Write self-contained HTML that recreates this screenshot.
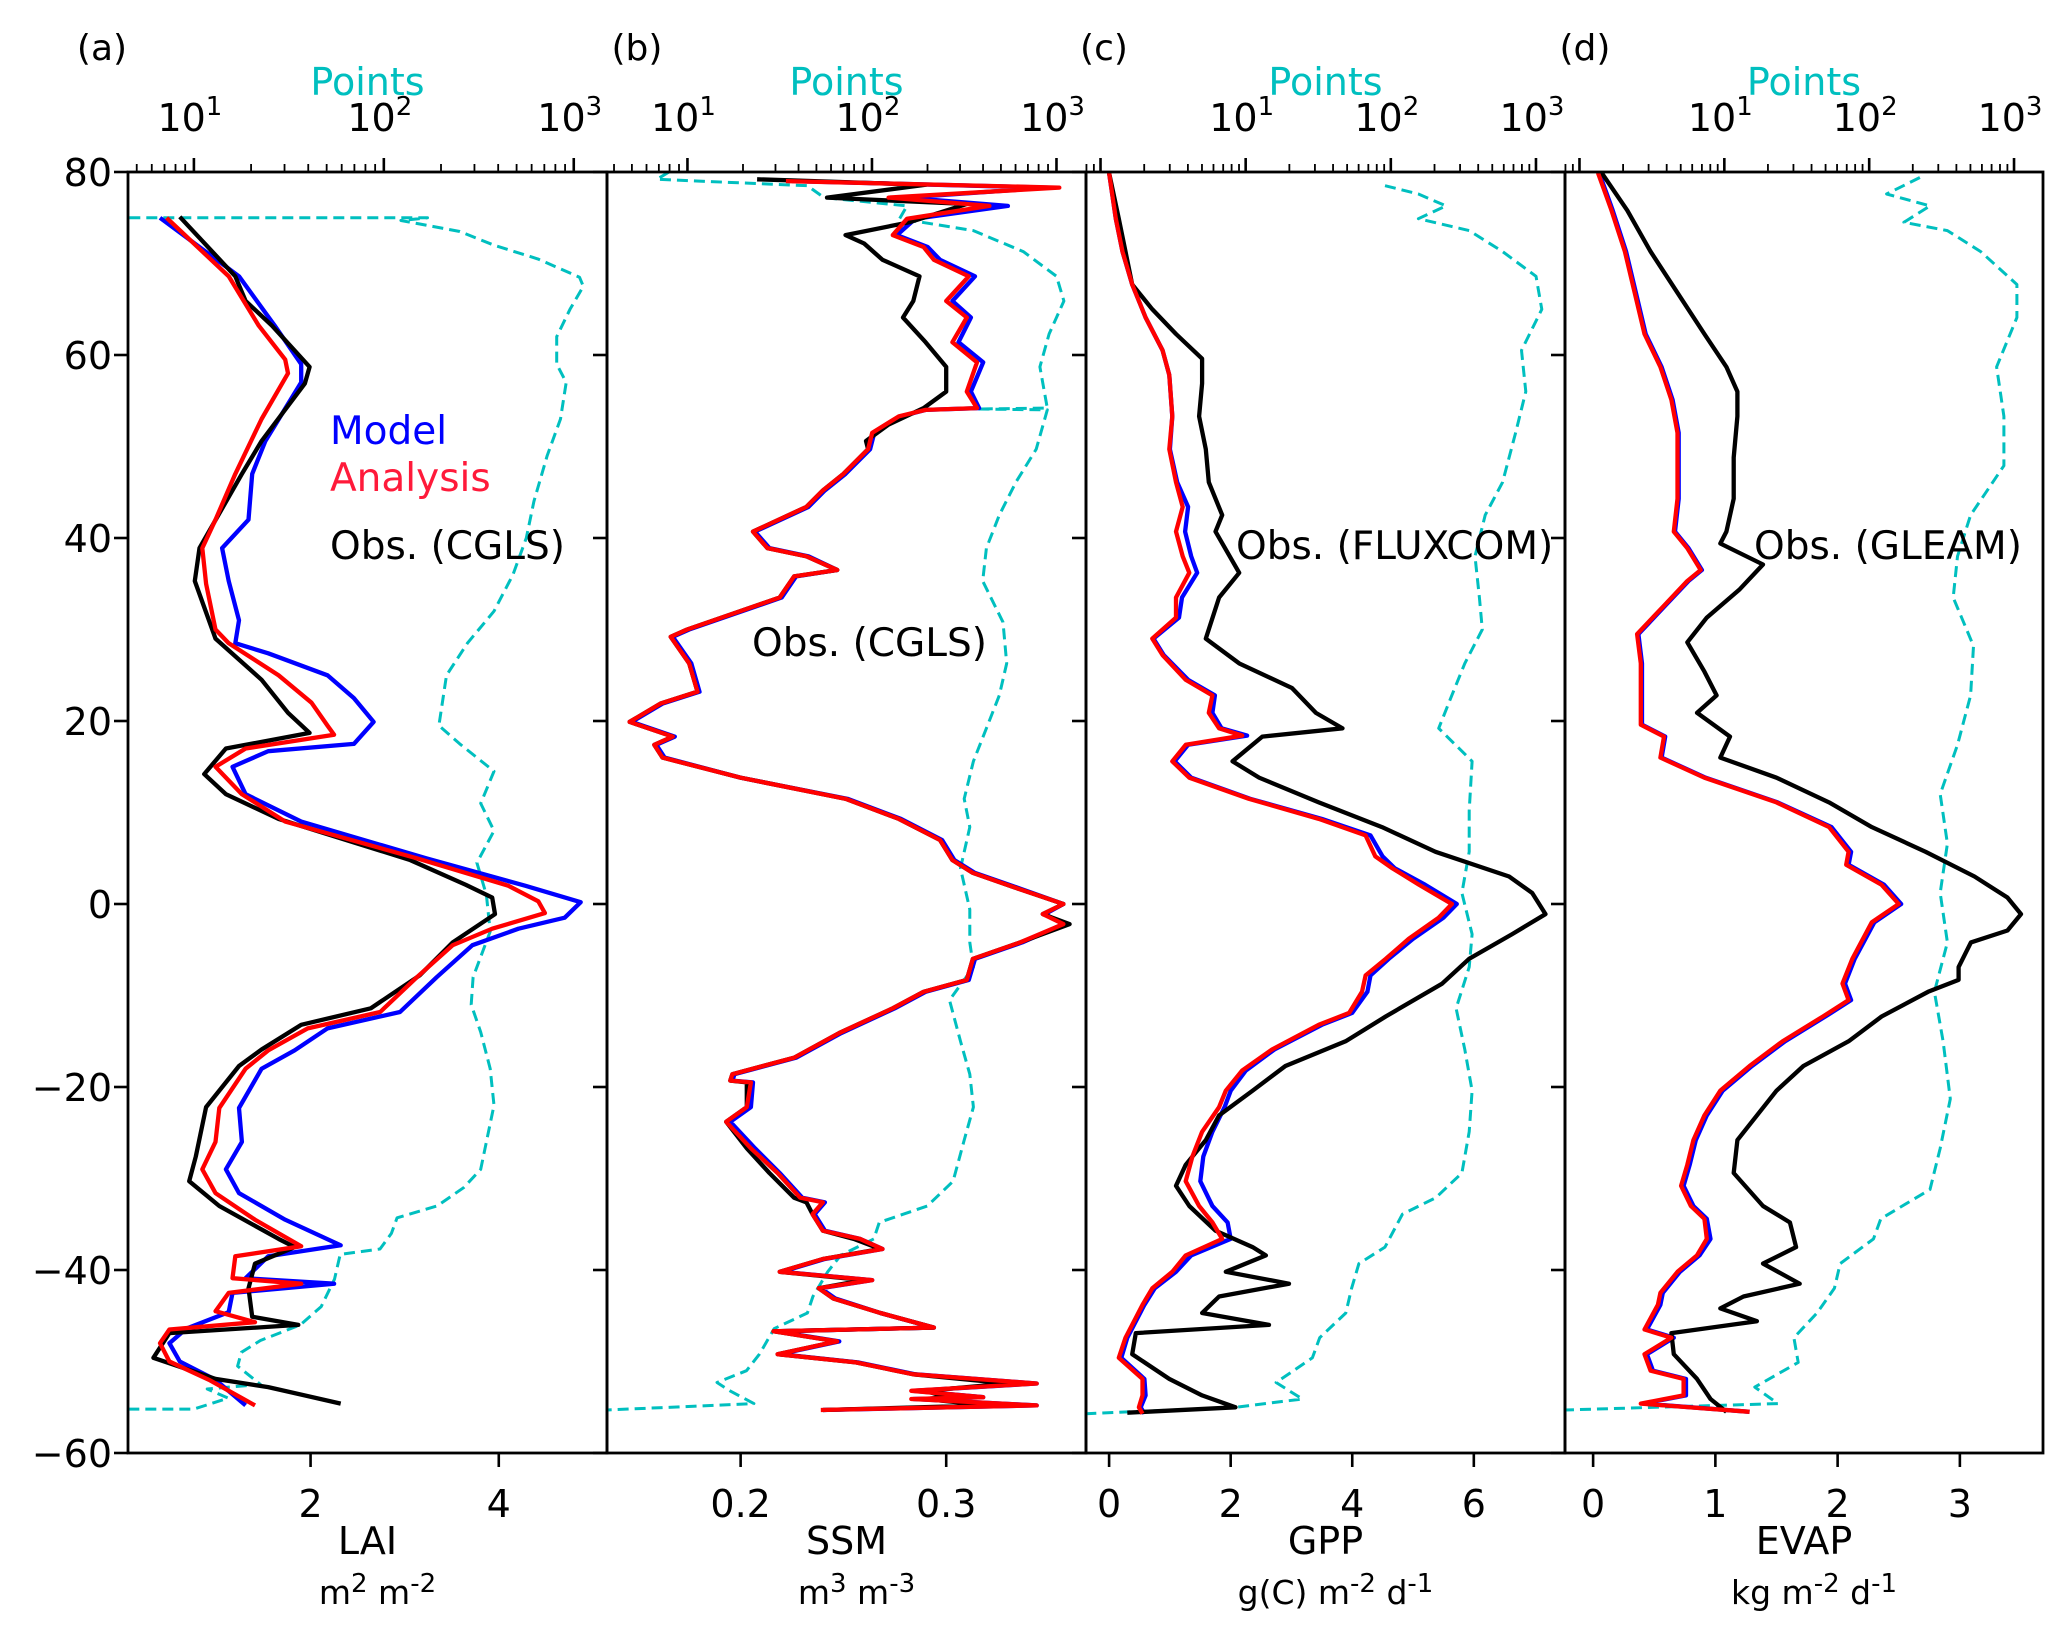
<!DOCTYPE html>
<html><head><meta charset="utf-8"><style>
html,body{margin:0;padding:0;background:#fff}
svg{display:block}
text{font-family:"DejaVu Sans","Liberation Sans",sans-serif}
</style></head><body>
<svg id="fig" width="2067" height="1627" viewBox="0 0 2067 1627" xmlns="http://www.w3.org/2000/svg">
<rect width="2067" height="1627" fill="#fff"/>
</svg>
<script>
// ---------- DATA ----------
// Panel (a) LAI
const aModLat=[75,68.6,63.2,59,57,50.6,47,42,38.9,35.3,31,28.5,27.4,25,22.5,19.9,17.5,16.7,15,12,9,5,2,0.2,-1.5,-2.7,-4.5,-8,-11.8,-13.6,-16,-18,-22.3,-26,-29,-31.6,-34.5,-37.3,-38.5,-40.9,-41.5,-42.5,-44.6,-46.4,-48,-50,-52,-54.8];
const aModVal=[0.4,1.24,1.62,1.9,1.9,1.52,1.38,1.34,1.06,1.13,1.24,1.2,1.55,2.18,2.46,2.67,2.46,1.55,1.17,1.31,1.9,3.23,4.28,4.87,4.7,4.21,3.72,3.34,2.95,2.18,1.83,1.48,1.24,1.27,1.1,1.24,1.73,2.32,1.55,1.31,2.25,1.17,1.13,0.68,0.5,0.61,0.99,1.31];
const aAnaLat=[75,68.6,63.2,59.5,58,53,47,42,38.9,35,30,28.5,25,22,19.5,18.5,17,15,12,9,5,2,0.3,-1,-2.7,-4.5,-8,-11.8,-13.6,-16,-18,-22.3,-26,-29,-31.6,-34.5,-37.4,-38.5,-40.9,-41.5,-42.5,-44.5,-45.7,-46.5,-48,-50,-52,-54.8];
const aAnaVal=[0.47,1.13,1.45,1.73,1.76,1.48,1.2,0.99,0.85,0.89,0.99,1.13,1.66,2.01,2.18,2.25,1.31,0.99,1.27,1.73,3.13,4.1,4.42,4.49,3.93,3.51,3.13,2.74,1.97,1.55,1.31,1.03,0.99,0.85,0.99,1.41,1.9,1.2,1.17,1.9,1.13,0.99,1.41,0.5,0.4,0.5,0.92,1.41];
const aObsLat=[75.1,68.6,65.9,63.2,58.7,56.9,50.6,47,38.9,35.3,29,24.5,20.9,18.7,17,14.2,12,9.3,4.8,2.1,0.7,-1.1,-4.2,-7.8,-11.4,-13.2,-15.9,-17.7,-22.2,-27.6,-30.3,-33,-36.6,-37.5,-39.3,-42,-45.1,-46,-46.9,-49.6,-51.9,-52.8,-54.6];
const aObsVal=[0.61,1.2,1.31,1.59,1.99,1.94,1.48,1.27,0.82,0.77,0.99,1.48,1.76,1.99,1.1,0.87,1.1,1.66,3.06,3.65,3.93,3.96,3.51,3.16,2.64,1.9,1.48,1.24,0.89,0.78,0.71,1.03,1.66,1.83,1.41,1.34,1.38,1.87,0.5,0.33,0.99,1.55,2.32];
const aPtsLat=[75,75,74.7,73.5,72,70.5,68.5,67.5,65,62,59,57,53,49,44,40,36,32,28.5,25,19.5,17.5,14.5,11,8,4.5,1,-3,-8,-11,-14,-18,-22,-26,-29,-31,-33,-34.3,-36,-37.7,-38.3,-41,-44,-46,-47.7,-49,-50.5,-52.5,-53,-54,-55.2,-55.2];
const aPtsLog=[0.66,2.23,2.09,2.4,2.58,2.81,3.03,3.05,2.98,2.91,2.91,2.96,2.93,2.86,2.79,2.75,2.68,2.58,2.44,2.33,2.29,2.4,2.58,2.51,2.58,2.49,2.54,2.56,2.47,2.46,2.51,2.56,2.58,2.54,2.51,2.42,2.28,2.07,2.04,1.98,1.77,1.74,1.67,1.56,1.35,1.25,1.23,1.35,1.07,1.18,1.0,0.66];

// Panel (b) SSM
const bLat=[79,78.3,77.2,76.3,74.9,73.1,71.8,70.4,68.6,65.9,64.1,61.4,59.2,56,54.2,54,53.3,51.5,49.7,47,45.2,43.4,40.7,38.9,38,36.5,35.8,33.5,30,29.2,26.3,23.2,21.9,19.9,18.3,17.4,16,13.8,11.5,9.3,7,4.8,3.4,1.6,0,-1.1,-2.2,-4.2,-6,-8.3,-9.6,-11.4,-14.1,-16.8,-18.6,-19.3,-19.5,-22.2,-23.8,-26.7,-29.4,-32.1,-32.6,-33.9,-35.7,-36.6,-37.7,-38.8,-40.2,-41.1,-42,-43.1,-44.7,-46.3,-46.7,-47.8,-49.2,-50.1,-51.4,-52.4,-53.2,-53.9,-54.1,-54.8,-55.3];
const bAnaVal=[0.222,0.355,0.272,0.321,0.281,0.274,0.289,0.294,0.311,0.3,0.31,0.303,0.315,0.31,0.315,0.29,0.277,0.264,0.262,0.25,0.24,0.232,0.206,0.213,0.232,0.247,0.226,0.219,0.174,0.166,0.175,0.179,0.161,0.146,0.167,0.158,0.162,0.2,0.251,0.277,0.297,0.303,0.313,0.336,0.357,0.347,0.357,0.336,0.313,0.31,0.289,0.274,0.248,0.226,0.196,0.195,0.205,0.203,0.193,0.205,0.218,0.229,0.24,0.235,0.24,0.258,0.269,0.24,0.219,0.264,0.238,0.245,0.268,0.294,0.216,0.247,0.218,0.256,0.284,0.344,0.283,0.318,0.283,0.344,0.239];
const bModVal=[0.225,0.35,0.28,0.33,0.285,0.276,0.291,0.297,0.314,0.303,0.312,0.306,0.318,0.312,0.316,0.29,0.278,0.265,0.263,0.251,0.241,0.233,0.207,0.214,0.233,0.247,0.227,0.22,0.175,0.167,0.176,0.18,0.162,0.147,0.168,0.159,0.163,0.2,0.252,0.278,0.298,0.304,0.314,0.337,0.357,0.348,0.357,0.337,0.314,0.311,0.29,0.275,0.249,0.227,0.197,0.196,0.206,0.205,0.195,0.207,0.219,0.23,0.241,0.236,0.241,0.258,0.269,0.241,0.22,0.264,0.239,0.246,0.268,0.294,0.217,0.248,0.219,0.257,0.285,0.344,0.284,0.318,0.284,0.344,0.24];
const bObsLat=[79.2,78.6,77.2,76.5,74.5,73.1,72.2,70.4,68.6,65.9,64.1,61.4,58.7,56,54.2,52.4,50.6,49.7,47,45.2,43.4,40.7,38.9,38,36.5,35.8,33.5,30,29.2,26.3,23.2,21.9,19.9,18.3,17.4,16,13.8,11.5,9.3,7,4.8,3.4,1.6,0,-1.1,-2.2,-4.2,-6,-8.3,-9.6,-11.4,-14.1,-16.8,-18.6,-19.3,-19.5,-22.2,-23.8,-26.7,-29.4,-32.1,-32.6,-33.9,-35.7,-36.6,-37.7,-38.8,-40.2,-41.1,-42,-43.1,-44.7,-46.3,-46.7,-47.8,-49.2,-50.1,-51.4,-52.4,-53.2,-53.9,-54.1,-54.8,-55.3];
const bObsVal=[0.208,0.29,0.242,0.31,0.282,0.251,0.26,0.269,0.287,0.284,0.279,0.29,0.3,0.3,0.289,0.272,0.261,0.262,0.25,0.24,0.232,0.206,0.213,0.232,0.247,0.226,0.219,0.174,0.166,0.175,0.179,0.161,0.146,0.167,0.158,0.162,0.2,0.251,0.277,0.297,0.303,0.313,0.336,0.357,0.347,0.36,0.336,0.313,0.31,0.289,0.274,0.248,0.226,0.196,0.195,0.203,0.203,0.193,0.203,0.214,0.226,0.232,0.235,0.24,0.255,0.268,0.24,0.219,0.26,0.238,0.245,0.268,0.294,0.216,0.247,0.218,0.256,0.284,0.33,0.29,0.3,0.29,0.32,0.24];
const bPtsLat=[80,79.2,78.5,77.2,76.3,74.9,73.6,71.3,68.6,65.9,62.3,58.7,54.2,54.1,54.0,49.7,46.1,42.5,38.9,35.3,30.8,26.3,22.8,19.2,15.6,11.5,8.4,3.9,-0.6,-4.2,-6.9,-10.5,-15,-18.6,-22.2,-25.8,-30.3,-33,-34.8,-36.6,-38.4,-40.2,-42.9,-44.7,-46.4,-49.2,-51,-52.3,-53.2,-54.6,-55.3];
const bPtsLog=[0.9,0.835,1.65,1.74,2.19,2.15,2.55,2.82,3.0,3.04,2.96,2.91,2.95,2.57,2.95,2.89,2.78,2.69,2.62,2.6,2.71,2.73,2.69,2.62,2.55,2.5,2.53,2.48,2.53,2.53,2.55,2.42,2.48,2.53,2.55,2.5,2.44,2.3,2.04,2.01,1.83,1.76,1.68,1.65,1.47,1.39,1.32,1.16,1.23,1.36,0.564];

// Panel (c) GPP
const cLat=[79.9,74.9,71.3,67.7,64.1,60.5,57.8,53.3,49.7,46.1,43.4,40.7,38,36.2,33.5,31.3,29,27.2,24.5,22.8,20.9,19.2,18.4,17.4,15.6,13.8,11.5,9.3,7.5,5.2,3.9,2.1,0,-1.5,-3.8,-6,-7.8,-9.6,-11.9,-13.2,-15.9,-18.2,-20.4,-22.2,-24.9,-27.6,-30.3,-33,-34.8,-36.6,-38.4,-40.2,-42,-43.8,-47.4,-49.6,-51.9,-53.7,-55,-55.7];
const cAnaVal=[0,0.11,0.22,0.38,0.6,0.88,0.99,1.04,0.99,1.1,1.21,1.1,1.21,1.32,1.1,1.1,0.71,0.88,1.26,1.7,1.64,1.81,2.19,1.26,1.04,1.32,2.3,3.45,4.22,4.38,4.66,5.1,5.64,5.42,4.93,4.55,4.22,4.16,3.95,3.45,2.68,2.19,1.92,1.81,1.53,1.37,1.26,1.48,1.7,1.86,1.26,1.04,0.71,0.55,0.27,0.16,0.55,0.55,0.49,0.55];
const cModVal=[0,0.11,0.22,0.38,0.6,0.88,0.99,1.04,1.0,1.12,1.3,1.25,1.35,1.45,1.2,1.15,0.73,0.9,1.3,1.74,1.7,1.85,2.27,1.3,1.08,1.35,2.32,3.5,4.3,4.5,4.7,5.2,5.72,5.5,5.0,4.6,4.3,4.25,4.0,3.5,2.72,2.25,2.0,1.9,1.7,1.55,1.5,1.7,1.95,2.0,1.35,1.1,0.75,0.58,0.3,0.2,0.58,0.6,0.52,0.58];
const cObsLat=[79.9,74.9,71.3,67.7,65,62.3,59.6,56.9,53.3,49.7,46.1,42.5,40.7,36.2,33.5,29,26.3,23.6,20.9,19.2,18.3,15.6,13.8,11.1,8.4,5.7,3,1.2,-1.1,-3.3,-6,-8.7,-12.3,-15,-17.7,-20.4,-23.1,-25.8,-28.5,-30.8,-33,-35.7,-37.5,-38.4,-40.2,-41.5,-42.9,-44.7,-46,-46.9,-49.2,-51.9,-53.7,-55,-55.6];
const cObsVal=[0,0.16,0.27,0.38,0.71,1.1,1.53,1.53,1.48,1.59,1.64,1.86,1.75,2.14,1.81,1.59,2.14,3.01,3.4,3.84,2.52,2.03,2.47,3.45,4.49,5.37,6.58,6.96,7.18,6.63,5.92,5.48,4.55,3.89,2.9,2.36,1.81,1.59,1.26,1.1,1.32,1.75,2.36,2.58,1.92,2.96,1.81,1.53,2.63,0.44,0.38,0.99,1.53,2.08,0.3];
const cPtsLat=[78.5,77.6,76.3,74.9,73.6,71.3,68.6,65,60.5,56,51.5,46.1,42.5,38,33.5,30,26.3,22.8,19.2,15.6,10.2,5.7,1.2,-3.3,-6.9,-11.4,-15.9,-20.4,-24.9,-29.4,-32.1,-33.9,-37.5,-39.3,-42,-44.7,-47.4,-49.6,-52.3,-54.1,-55,-55.7];
const cPtsLog=[1.96,2.19,2.38,2.19,2.54,2.77,3.0,3.04,2.9,2.93,2.86,2.77,2.65,2.58,2.61,2.63,2.51,2.42,2.33,2.56,2.54,2.54,2.49,2.56,2.54,2.45,2.51,2.56,2.54,2.49,2.31,2.08,1.96,1.78,1.73,1.69,1.51,1.46,1.21,1.39,0.93,-0.1];

// Panel (d) EVAP
const dLat=[79.9,75.8,71.3,66.8,62.3,58.7,55.1,51.5,47.9,44.3,40.7,38.9,36.5,35.3,32.6,29.5,26.3,22.8,19.6,18.3,16,13.8,11.1,8.4,5.7,4.3,2.1,0,-2,-6,-8.7,-10.5,-12.3,-15,-17.7,-20.4,-23.1,-25.8,-28.5,-30.8,-33,-34.4,-36.6,-38.4,-40.2,-42.5,-43.8,-46.5,-47.4,-49.2,-51,-51.9,-53.7,-54.6,-55.5];
const dAnaVal=[0.04,0.15,0.26,0.34,0.42,0.55,0.64,0.69,0.69,0.69,0.66,0.77,0.88,0.77,0.58,0.36,0.39,0.39,0.39,0.58,0.55,0.91,1.5,1.93,2.09,2.07,2.36,2.5,2.28,2.12,2.04,2.09,1.88,1.55,1.28,1.04,0.91,0.82,0.77,0.72,0.8,0.91,0.93,0.85,0.69,0.55,0.53,0.42,0.64,0.42,0.47,0.74,0.74,0.39,1.28];
const dModVal=[0.05,0.16,0.27,0.35,0.43,0.56,0.65,0.7,0.7,0.7,0.67,0.78,0.89,0.78,0.59,0.37,0.4,0.4,0.4,0.59,0.56,0.92,1.51,1.95,2.11,2.09,2.38,2.52,2.3,2.14,2.06,2.11,1.9,1.57,1.3,1.06,0.93,0.84,0.79,0.74,0.82,0.93,0.96,0.87,0.71,0.57,0.55,0.44,0.66,0.44,0.49,0.76,0.76,0.41,1.28];
const dObsLat=[79.9,75.8,71.3,66.8,62.3,58.7,56,53.3,48.8,44.3,40.7,39.4,37.1,34.4,31.3,28.6,25.4,22.8,20.9,18.3,16,13.8,11.1,8.4,5.7,3,0.7,-1.1,-2.9,-4.2,-6.9,-8.3,-9.6,-12.3,-15,-17.7,-20.4,-23.1,-25.8,-29.4,-33,-34.8,-37.5,-39.3,-41.5,-42.9,-44.2,-45.6,-46.9,-49.2,-51.9,-54.1,-55.5];
const dObsVal=[0.07,0.28,0.47,0.69,0.91,1.09,1.18,1.18,1.15,1.15,1.09,1.04,1.39,1.2,0.93,0.77,0.91,1.01,0.85,1.12,1.04,1.5,1.93,2.28,2.72,3.12,3.39,3.5,3.39,3.09,2.99,2.99,2.74,2.36,2.09,1.72,1.5,1.34,1.18,1.15,1.39,1.61,1.66,1.39,1.69,1.23,1.04,1.34,0.64,0.66,0.85,0.96,1.09];
const dPtsLat=[79.4,77.6,76.3,74.5,73.6,71.3,67.7,64.1,58.7,53.3,47.9,42.5,38,33.5,28.2,22.8,17.4,12,6.6,1.2,-4.2,-9.6,-15,-21.3,-26.7,-31.2,-34.4,-36.6,-39.3,-42,-44.7,-47.4,-50.1,-52.8,-54.6,-55.3];
const dPtsLog=[2.35,2.12,2.42,2.24,2.54,2.77,3.02,3.02,2.88,2.93,2.93,2.7,2.61,2.58,2.72,2.7,2.61,2.49,2.54,2.49,2.54,2.45,2.51,2.56,2.49,2.42,2.08,2.03,1.8,1.76,1.64,1.48,1.51,1.21,1.37,-0.1];

// Axis ticks
const yTicks=[80,60,40,20,0,-20,-40,-60];
const aXTicks=[2,4];
const bXTicks=[0.2,0.3];
const cXTicks=[0,2,4,6];
const dXTicks=[0,1,2,3];
const logLabels=[1,2,3];

// ---------- DRAWING ----------
const NS="http://www.w3.org/2000/svg";
const svg=document.getElementById('fig');
const Y0=904, YS=9.15;
function yScale(lat){return Y0-lat*YS;}
function mk(tag,attrs,parent){const e=document.createElementNS(NS,tag);for(const k in attrs)e.setAttribute(k,attrs[k]);(parent||svg).appendChild(e);return e;}

const panels=[
 {key:'a',x0:128,x1:607,xmin:0.06,xmax:5.15,lmin:0.653,lmax:3.175,ticks:aXTicks,fmt:v=>String(v),xl:'LAI',unit:['m','2',' m','-2'],plx:102,
  series:[[aPtsLat,aPtsLog,'pts'],[aModLat,aModVal,'model'],[aObsLat,aObsVal,'obs'],[aAnaLat,aAnaVal,'analysis']]},
 {key:'b',x0:607,x1:1086,xmin:0.135,xmax:0.368,lmin:0.564,lmax:3.16,ticks:bXTicks,fmt:v=>v.toFixed(1),xl:'SSM',unit:['m','3',' m','-3'],plx:637,
  series:[[bPtsLat,bPtsLog,'pts'],[bLat,bModVal,'model'],[bObsLat,bObsVal,'obs'],[bLat,bAnaVal,'analysis']]},
 {key:'c',x0:1086,x1:1565,xmin:-0.38,xmax:7.5,lmin:-0.1,lmax:3.2,ticks:cXTicks,fmt:v=>String(v),xl:'GPP',unit:['g(C) m','-2',' d','-1'],plx:1104,
  series:[[cPtsLat,cPtsLog,'pts'],[cLat,cModVal,'model'],[cObsLat,cObsVal,'obs'],[cLat,cAnaVal,'analysis']]},
 {key:'d',x0:1565,x1:2043,xmin:-0.23,xmax:3.68,lmin:-0.1,lmax:3.2,ticks:dXTicks,fmt:v=>String(v),xl:'EVAP',unit:['kg m','-2',' d','-1'],plx:1585,
  series:[[dPtsLat,dPtsLog,'pts'],[dLat,dModVal,'model'],[dObsLat,dObsVal,'obs'],[dLat,dAnaVal,'analysis']]}
];
const colors={pts:'#00bfbf',model:'#0000ff',obs:'#000000',analysis:'#ff0000'};
const YT=yScale(80), YB=yScale(-60);

panels.forEach(p=>{
  const W=p.x1-p.x0;
  const xS=v=>p.x0+(v-p.xmin)/(p.xmax-p.xmin)*W;
  const lS=l=>p.x0+(l-p.lmin)/(p.lmax-p.lmin)*W;
  const g=mk('g',{});
  
  
  const clipId='clip'+p.key;
  const cp=mk('clipPath',{id:clipId},g);
  mk('rect',{x:p.x0,y:YT,width:W,height:YB-YT},cp);
  const sg=mk('g',{'clip-path':'url(#'+clipId+')'},g);
  p.series.forEach(s=>{
    const lat=s[0],val=s[1],type=s[2];
    const n=Math.min(lat.length,val.length);
    let d='';
    for(let i=0;i<n;i++){
      const x=type==='pts'?lS(val[i]):xS(val[i]);
      d+=(i?'L':'M')+x.toFixed(1)+' '+yScale(lat[i]).toFixed(1);
    }
    const path=mk('path',{d:d,fill:'none',stroke:colors[type],'stroke-width':type==='pts'?3:4.3,'stroke-linejoin':'round','stroke-linecap':'butt'},sg);
    if(type==='pts')path.setAttribute('stroke-dasharray','11 6');
    
    
  });
  const fr=mk('rect',{x:p.x0,y:YT,width:W,height:YB-YT,fill:'none',stroke:'#000','stroke-width':2.8},g);
  
  
  yTicks.forEach(t=>{
    const y=yScale(t);
    const tk=mk('line',{x1:p.x0-14,x2:p.x0,y1:y,y2:y,stroke:'#000','stroke-width':2.6},g);
    
    
    if(p.key==='a'){
      const tl=mk('text',{x:112,y:y+14,'font-size':38,'text-anchor':'end'},g);
      tl.textContent=(t<0?'\u2212':'')+Math.abs(t);
      
      
    }
  });
  p.ticks.forEach(t=>{
    const x=xS(t);
    const tk=mk('line',{x1:x,x2:x,y1:YB,y2:YB+14,stroke:'#000','stroke-width':2.6},g);
    
    
    const tl=mk('text',{x:x,y:1517,'font-size':38,'text-anchor':'middle'},g);
    tl.textContent=p.fmt(t);
    
    
  });
  for(let k=-1;k<=3;k++){
    for(let m=1;m<=9;m++){
      const l=k+Math.log10(m);
      if(l<p.lmin-1e-6||l>p.lmax+1e-6)continue;
      const x=lS(l);
      const tk=mk('line',{x1:x,x2:x,y1:YT-(m===1?14:8),y2:YT,stroke:'#000','stroke-width':m===1?2.6:1.8},g);
      
      
    }
  }
  logLabels.forEach(k=>{
    const x=lS(k);
    const tl=mk('text',{x:x-4,y:131,'font-size':38,'text-anchor':'middle'},g);
    
    
    const t1=mk('tspan',{},tl);t1.textContent='10';
    const t2=mk('tspan',{dy:-16,'font-size':26},tl);t2.textContent=String(k);
  });
  const cx=(p.x0+p.x1)/2;
  const pl=mk('text',{x:cx,y:95,'font-size':38,'text-anchor':'middle',fill:'#00bfbf'},g);
  pl.textContent='Points';
  
  
  const lab=mk('text',{x:p.plx,y:60,'font-size':36,'text-anchor':'middle'},g);
  lab.textContent='('+p.key+')';
  
  
  const xl=mk('text',{x:cx,y:1554,'font-size':38,'text-anchor':'middle'},g);
  xl.textContent=p.xl;
  
  
  const un=mk('text',{x:cx+10,y:1604,'font-size':33,'text-anchor':'middle'},g);
  
  
  p.unit.forEach((s,i)=>{const ts=mk('tspan',i%2?{dy:-12,'font-size':26}:(i?{dy:12}:{}),un);ts.textContent=s;});
});

function label(txt,x,y,col,name){
  const t=mk('text',{x:x,y:y,'font-size':39,fill:col});
  t.textContent=txt;
  
  
}
label('Model',330,444,'#0000ff','legend-model');
label('Analysis',330,491,'#ff1a3a','legend-analysis');
label('Obs. (CGLS)',330,559,'#000','legend-obs-cgls');
label('Obs. (CGLS)',752,656,'#000','label-obs-cgls-b');
label('Obs. (FLUXCOM)',1236,559,'#000','label-obs-fluxcom');
label('Obs. (GLEAM)',1754,559,'#000','label-obs-gleam');
</script>
</body></html>
